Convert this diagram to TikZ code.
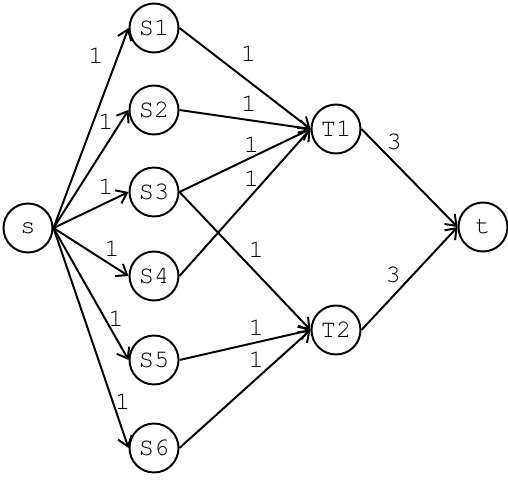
\documentclass[tikz,border=0pt]{standalone}
\usepackage{fontspec}
\setmonofont{texgyrecursor-regular.otf}
\usetikzlibrary{arrows.meta}

\begin{document}
\begin{tikzpicture}[
  font=\ttfamily\fontsize{18}{20}\selectfont,
  nodo/.style={draw, circle, line width=1.4pt, minimum size=1.225cm, inner sep=0pt},
  flecha/.style={-{Straight Barb[length=2.4mm, width=3.6mm, line width=1.4pt]}, line width=1.4pt},
  peso/.style={inner sep=0pt}
]
  \useasboundingbox (0,0) rectangle (12.7,-11.975);
  \node[nodo] (s) at (0.7,-5.7) {s};
  \node[nodo] (S1) at (3.85,-0.7) {S1};
  \node[nodo] (S2) at (3.85,-2.75) {S2};
  \node[nodo] (S3) at (3.85,-4.8) {S3};
  \node[nodo] (S4) at (3.85,-6.9) {S4};
  \node[nodo] (S5) at (3.85,-9.0) {S5};
  \node[nodo] (S6) at (3.85,-11.2) {S6};
  \node[nodo] (T1) at (8.4,-3.225) {T1};
  \node[nodo] (T2) at (8.4,-8.25) {T2};
  \node[nodo] (t) at (12.075,-5.675) {t};
  \draw[flecha] (s.east) -- node[peso, pos=.86, xshift=-0.55cm] {1} (S1.west);
  \draw[flecha] (s.east) -- node[peso, pos=.9, xshift=-0.375cm] {1} (S2.west);
  \draw[flecha] (s.east) -- node[peso, pos=.7, yshift=0.4cm] {1} (S3.west);
  \draw[flecha] (s.east) -- node[peso, pos=.78, yshift=0.425cm] {1} (S4.west);
  \draw[flecha] (s.east) -- node[peso, pos=.685, xshift=0.275cm] {1} (S5.west);
  \draw[flecha] (s.east) -- node[peso, pos=.79, xshift=0.25cm] {1} (S6.west);
  \draw[flecha] (S1.east) -- node[peso, pos=.526, yshift=0.675cm] {1} (T1.west);
  \draw[flecha] (S2.east) -- node[peso, pos=.53, yshift=0.4cm] {1} (T1.west);
  \draw[flecha] (S3.east) -- node[peso, pos=.55, yshift=0.325cm] {1} (T1.west);
  \draw[flecha] (S4.east) -- node[peso, pos=.55, yshift=0.4cm] {1} (T1.west);
  \draw[flecha] (S3.east) -- node[peso, pos=.586, yshift=0.575cm] {1} (T2.west);
  \draw[flecha] (S5.east) -- node[peso, pos=.586, yshift=0.375cm] {1} (T2.west);
  \draw[flecha] (S6.east) -- node[peso, pos=.586, yshift=0.475cm] {1} (T2.west);
  \draw[flecha] (T1.east) -- node[peso, pos=.34, yshift=0.5cm] {3} (t.west);
  \draw[flecha] (T2.east) -- node[peso, pos=.33, yshift=0.525cm] {3} (t.west);
\end{tikzpicture}
\end{document}
